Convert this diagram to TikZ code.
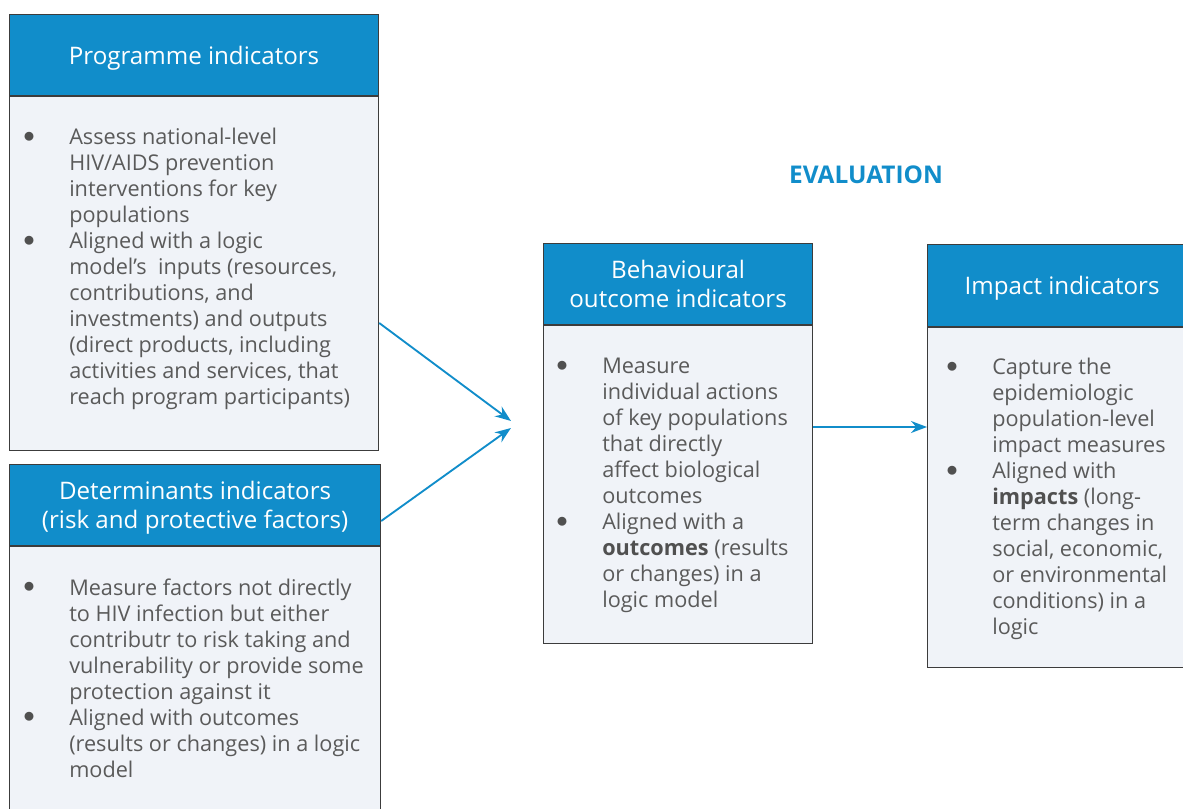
\documentclass[tikz,border=0pt]{standalone}
\usepackage{fontspec}
\setmainfont{Open Sans}
\usetikzlibrary{positioning,arrows.meta}

\definecolor{headblue}{HTML}{118DCA}
\definecolor{bodyfill}{HTML}{F0F3F8}
\definecolor{boxline}{HTML}{3C3C3C}
\definecolor{bodytext}{HTML}{5A5A5A}

\newcommand{\bodyfont}{\fontsize{16.25}{19.5}\selectfont}
\newcommand{\keyword}[1]{\textcolor{boxline!90}{\textbf{#1}}}
\newcommand{\itemdot}{\textcolor{boxline!90}{\raisebox{1.6pt}{$\bullet$}}}

\begin{document}
\begin{tikzpicture}[x=0.75pt,y=-0.75pt,
    head/.style={draw=boxline,line width=0.9pt,fill=headblue,text=white,anchor=north west,
                 inner sep=0pt,align=center,text depth=0pt,font=\fontsize{18.1}{21.5}\selectfont},
    body/.style={draw=boxline,line width=0.9pt,fill=bodyfill,anchor=north west,inner sep=0pt},
    items/.style={anchor=base west,inner sep=0pt,text=bodytext,font=\bodyfont},
    link/.style={draw=headblue,line width=1.4pt,-{Stealth[length=12pt,width=9pt]}}]

  \useasboundingbox (0,0) rectangle (1183,809);
  \clip (0,0) rectangle (1183,809);

  % left column
  \node[head,minimum width=276.75pt,minimum height=60.75pt] (proghead) at (9,14) {Programme indicators};
  \node[body,minimum width=276.75pt,minimum height=265.5pt] (progbody) at (proghead.south west) {};
  \node[head,minimum width=278.25pt,minimum height=60.75pt] (dethead) at (9,464) {Determinants indicators\\(risk and protective factors)};
  \node[body,minimum width=278.25pt,minimum height=213.75pt] (detbody) at (dethead.south west) {};

  % middle and right
  \node[head,minimum width=201.75pt,minimum height=60.75pt] (behhead) at (543,243) {Behavioural\\outcome indicators};
  \node[body,minimum width=201.75pt,minimum height=238.5pt] (behbody) at (behhead.south west) {};
  \node[head,minimum width=201.75pt,minimum height=61.5pt] (imphead) at (927,244) {Impact indicators};
  \node[body,minimum width=201.75pt,minimum height=255pt] (impbody) at (imphead.south west) {};

  \node[text=headblue,font=\fontsize{18.3}{21}\selectfont\bfseries] (evaluation) at (866,175) {EVALUATION};

  % bullet texts
  \node[items] (progtext) at (23,145) {\begin{tabular}[t]{@{}p{34.5pt}@{}l@{}}
    \itemdot & Assess national-level\\
     & HIV/AIDS prevention\\
     & interventions for key\\
     & populations\\
    \itemdot & Aligned with a logic\\
     & model’s\ \ inputs (resources,\\
     & contributions, and\\
     & investments) and outputs\\
     & (direct products, including\\
     & activities and services, that\\
     & reach program participants)
  \end{tabular}};
  \node[items] (dettext) at (23,595) {\begin{tabular}[t]{@{}p{34.5pt}@{}l@{}}
    \itemdot & Measure factors not directly\\
     & to HIV infection but either\\
     & contributr to risk taking and\\
     & vulnerability or provide some\\
     & protection against it\\
    \itemdot & Aligned with outcomes\\
     & (results or changes) in a logic\\
     & model
  \end{tabular}};
  \node[items] (behtext) at (556,374) {\begin{tabular}[t]{@{}p{34.5pt}@{}l@{}}
    \itemdot & Measure\\
     & individual actions\\
     & of key populations\\
     & that directly\\
     & affect biological\\
     & outcomes\\
    \itemdot & Aligned with a\\
     & \keyword{outcomes} (results\\
     & or changes) in a\\
     & logic model
  \end{tabular}};
  \node[items] (imptext) at (946,375) {\begin{tabular}[t]{@{}p{34.5pt}@{}l@{}}
    \itemdot & Capture the\\
     & epidemiologic\\
     & population-level\\
     & impact measures\\
    \itemdot & Aligned with\\
     & \keyword{impacts} (long-\\
     & term changes in\\
     & social, economic,\\
     & or environmental\\
     & conditions) in a\\
     & logic
  \end{tabular}};

  % connectors
  \coordinate (progout) at (progbody.east |- 0,323);
  \coordinate (detout) at (dethead.east |- 0,521);
  \coordinate (behin1) at (511,421);
  \coordinate (behin2) at (511,428);
  \coordinate (behout) at (behbody.east |- 0,427);
  \coordinate (impin) at (impbody.west |- 0,427);
  \draw[link] (progout) -- (behin1);
  \draw[link] (detout) -- (behin2);
  \draw[link] (behout) -- (impin);
\end{tikzpicture}
\end{document}
